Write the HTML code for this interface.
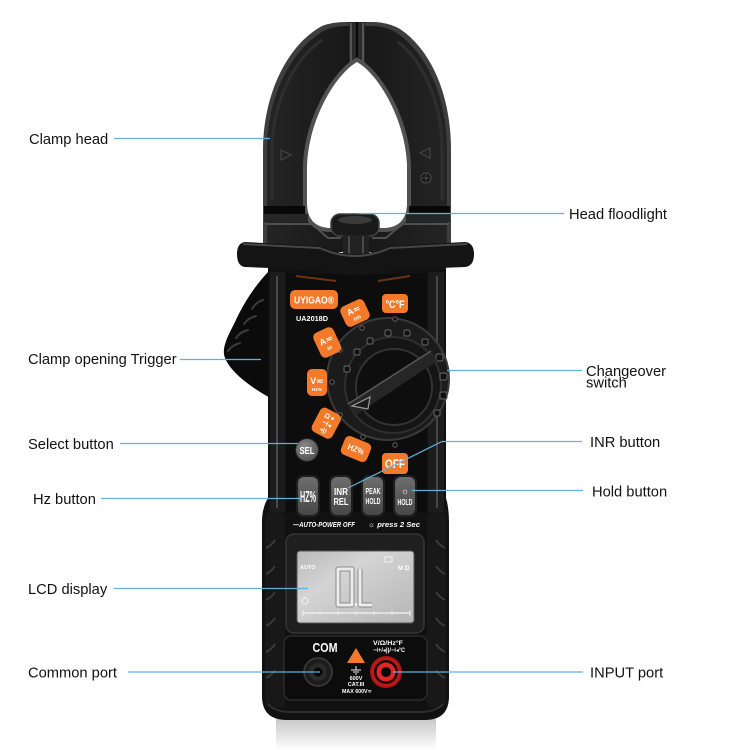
<!DOCTYPE html>
<html><head><meta charset="utf-8"><style>
html,body{margin:0;padding:0;background:#fff;}
svg{display:block}
.l{font-family:"Liberation Sans",Arial,sans-serif;font-size:14.7px;fill:#111}
.b{font-family:"Liberation Sans","DejaVu Sans",sans-serif;font-weight:bold;fill:#fff}
</style></head><body>
<svg width="750" height="750" viewBox="0 0 750 750" xmlns="http://www.w3.org/2000/svg">
<defs>
<linearGradient id="refl" x1="0" y1="0" x2="0" y2="1"><stop offset="0" stop-color="#c8c8c8"/><stop offset="1" stop-color="#ffffff"/></linearGradient>
<linearGradient id="lcd" x1="0" y1="0" x2="1" y2="1"><stop offset="0" stop-color="#b9b9b9"/><stop offset="0.35" stop-color="#d4d4d4"/><stop offset="1" stop-color="#b5b5b5"/></linearGradient>
<linearGradient id="gbtn" x1="0" y1="0" x2="0" y2="1"><stop offset="0" stop-color="#6e6e6e"/><stop offset="1" stop-color="#474747"/></linearGradient>
<radialGradient id="sel" cx="0.4" cy="0.35" r="0.7"><stop offset="0" stop-color="#8c8c8c"/><stop offset="1" stop-color="#505050"/></radialGradient>
<linearGradient id="headg" x1="0" y1="0" x2="1" y2="0"><stop offset="0" stop-color="#242424"/><stop offset="0.5" stop-color="#171717"/><stop offset="1" stop-color="#242424"/></linearGradient>
<radialGradient id="redp" cx="0.5" cy="0.5" r="0.5"><stop offset="0.6" stop-color="#e02424"/><stop offset="1" stop-color="#a51212"/></radialGradient>
</defs>

<!-- reflection -->
<rect x="276" y="719" width="160" height="31" fill="url(#refl)"/>

<!-- trigger -->
<path d="M270,270 C258,282 245,300 235,322 C228,336 221,348 225,358 C231,373 252,388 272,399 Z" fill="#0b0b0b"/>
<g fill="none" stroke="#3c3c3c" stroke-width="2" stroke-linecap="round">
<path d="M252,309 Q256,302 263,300"/>
<path d="M244,324 Q248,318 256,316"/>
<path d="M236,338 Q240,332 248,330"/>
<path d="M228,351 Q232,345 240,343"/>
</g>

<!-- head -->
<path d="M263,252 L263,150 C263,95 287,45 322,26 Q332,22 346,22 L372,22 Q388,22 400,29 C434,52 451,100 451,150 L451,252 Z" fill="#3e3e3e"/>
<path d="M267,252 L267,150 C267,98 290,50 325,30 Q334,26 347,26 L371,26 Q386,26 397,33 C430,56 447,102 447,150 L447,252 Z" fill="url(#headg)"/>
<path d="M272,200 L272,150 C272,104 293,60 322,40" fill="none" stroke="#2e2e2e" stroke-width="3"/>
<path d="M442,200 L442,150 C442,104 424,62 398,42" fill="none" stroke="#2e2e2e" stroke-width="3"/>
<!-- jaw split -->
<rect x="349" y="22" width="16" height="44" fill="#2a2a2a"/>
<line x1="351" y1="23" x2="351" y2="64" stroke="#555" stroke-width="2"/>
<line x1="363" y1="23" x2="363" y2="64" stroke="#555" stroke-width="2"/>
<line x1="357" y1="22" x2="357" y2="64" stroke="#0a0a0a" stroke-width="2"/>
<!-- opening -->
<path d="M357,62 C336,74 309,118 307,165 L307,205 Q308,226 328,228 L386,228 Q406,226 407,205 L407,165 C405,118 378,74 357,62 Z" fill="#fff" stroke="#525252" stroke-width="8"/>
<path d="M357,62 C336,74 309,118 307,165 L307,205 Q308,226 328,228 L386,228 Q406,226 407,205 L407,165 C405,118 378,74 357,62 Z" fill="#fff"/>
<!-- marks -->
<path d="M281,150 L291,155 L281,160 Z" fill="none" stroke="#444" stroke-width="1.2"/>
<path d="M430,148 L420,153 L430,158 Z" fill="none" stroke="#444" stroke-width="1.2"/>
<circle cx="426" cy="178" r="5" fill="#141414" stroke="#444" stroke-width="1.2"/>
<path d="M426,174.5 V181.5 M422.5,178 H429.5" stroke="#444" stroke-width="1.2"/>
<!-- black band on legs -->
<rect x="264" y="206" width="41" height="8" fill="#080808"/>
<rect x="409" y="206" width="41" height="8" fill="#080808"/>
<!-- shoulder -->
<rect x="264" y="214" width="44" height="8" fill="#262626"/>
<rect x="406" y="214" width="44" height="8" fill="#262626"/>
<polyline points="265,224 312,224 328,238 341,238" fill="none" stroke="#505050" stroke-width="2"/>
<polyline points="372,238 386,238 402,224 449,224" fill="none" stroke="#505050" stroke-width="2"/>
<rect x="331" y="214" width="48" height="22" rx="9" fill="#1a1a1a" stroke="#444" stroke-width="1.5"/>
<ellipse cx="355" cy="220" rx="17" ry="4" fill="#3a3a3a"/>
<rect x="343" y="235" width="26" height="26" fill="#222"/>
<line x1="349" y1="236" x2="349" y2="260" stroke="#4a4a4a" stroke-width="2"/>
<line x1="363" y1="236" x2="363" y2="260" stroke="#4a4a4a" stroke-width="2"/>

<!-- body -->
<path d="M268,262 L446,262 L446,498 Q449,508 449,522 L449,696 Q449,720 425,720 L287,720 Q262,720 262,696 L262,522 Q262,508 268,498 Z" fill="#111"/>
<rect x="270" y="272" width="15" height="240" fill="#1c1c1c"/>
<line x1="277" y1="276" x2="277" y2="508" stroke="#4a4a4a" stroke-width="2"/>
<rect x="428" y="272" width="16" height="240" fill="#1c1c1c"/>
<line x1="437" y1="276" x2="437" y2="508" stroke="#464646" stroke-width="2"/>
<rect x="286" y="274" width="141" height="238" fill="#0d0d0d"/>
<!-- lower rails -->
<rect x="265" y="512" width="20" height="196" rx="6" fill="#181818"/>
<rect x="427" y="512" width="19" height="196" rx="6" fill="#181818"/>
<g fill="none" stroke="#3a3a3a" stroke-width="2">
<path d="M266,548 Q272,545 275,540"/><path d="M266,574 Q272,571 275,566"/><path d="M266,600 Q272,597 275,592"/><path d="M266,626 Q272,623 275,618"/><path d="M266,652 Q272,649 275,644"/><path d="M266,678 Q272,675 275,670"/>
<path d="M445,548 Q439,545 436,540"/><path d="M445,574 Q439,571 436,566"/><path d="M445,600 Q439,597 436,592"/><path d="M445,626 Q439,623 436,618"/><path d="M445,652 Q439,649 436,644"/><path d="M445,678 Q439,675 436,670"/>
</g>
<path d="M268,704 Q275,712 290,712 L420,712 Q436,712 443,704" fill="none" stroke="#2e2e2e" stroke-width="2"/>

<!-- guard -->
<path d="M245,242 L320,246 Q355,262 390,246 L465,242 Q474,243 474,254 Q474,266 465,267 L390,270 Q355,281 320,270 L245,267 Q237,266 237,254 Q237,243 245,242 Z" fill="#141414"/>
<path d="M243,244 L320,248 Q355,264 390,248 L467,244" fill="none" stroke="#474747" stroke-width="2"/>
<!-- orange glow -->
<path d="M296,276 L336,281" stroke="#6a3312" stroke-width="2"/>
<path d="M378,281 L410,276" stroke="#6a3312" stroke-width="2"/>

<!-- logo -->
<rect x="290" y="290" width="48" height="19" rx="5" fill="#f47a2b"/>
<text x="314" y="303.5" text-anchor="middle" class="b" font-size="10" textLength="40" lengthAdjust="spacingAndGlyphs">UYIGAO®</text>
<text x="312" y="321" text-anchor="middle" class="b" font-size="7.5" textLength="32" lengthAdjust="spacingAndGlyphs">UA2018D</text>

<!-- dial -->
<circle cx="388" cy="379" r="61" fill="#1b1b1b" stroke="#3a3a3a" stroke-width="2"/>
<circle cx="393" cy="385" r="48" fill="#151515" stroke="#2f2f2f" stroke-width="2"/>
<g fill="#111" stroke="#5a5a5a" stroke-width="1.2">
<rect x="344" y="366" width="6" height="6" rx="1.5"/>
<rect x="354" y="349" width="6" height="6" rx="1.5"/>
<rect x="367" y="338" width="6" height="6" rx="1.5"/>
<rect x="385" y="330" width="6" height="6" rx="1.5"/>
<rect x="404" y="330" width="6" height="6" rx="1.5"/>
<rect x="422" y="339" width="6" height="6" rx="1.5"/>
<rect x="436" y="354" width="7" height="7" rx="1.5"/>
<rect x="440" y="373" width="7" height="7" rx="1.5"/>
<rect x="440" y="392" width="7" height="7" rx="1.5"/>
<rect x="434" y="410" width="6" height="6" rx="1.5"/>
</g>
<g fill="#0a0a0a" stroke="#666" stroke-width="1">
<circle cx="395" cy="319" r="2.2"/><circle cx="362" cy="328" r="2.2"/><circle cx="340" cy="350" r="2.2"/>
<circle cx="332" cy="382" r="2.2"/><circle cx="340" cy="415" r="2.2"/><circle cx="363" cy="437" r="2.2"/>
<circle cx="395" cy="445" r="2.2"/>
</g>
<circle cx="394" cy="387" r="38" fill="#0e0e0e" stroke="#333" stroke-width="2"/>
<path d="M348,404 L431,351 L437,361 L356,415 Z" fill="#262626"/>
<path d="M348,404 L431,351" stroke="#5a5a5a" stroke-width="1.5"/>
<path d="M352,406 L370,397 L368,409 Z" fill="#1a1a1a" stroke="#9a9a9a" stroke-width="1.2"/>

<!-- orange buttons -->
<g fill="#f47a2b">
<rect x="382" y="294" width="26" height="19" rx="4"/>
<rect x="342" y="302" width="26" height="22" rx="5" transform="rotate(-25 355 313)"/>
<rect x="316" y="329" width="22" height="27" rx="5" transform="rotate(-25 327 342)"/>
<rect x="307" y="369" width="20" height="27" rx="5"/>
<rect x="315" y="410" width="23" height="27" rx="5" transform="rotate(28 327 423)"/>
<rect x="342" y="439" width="28" height="20" rx="5" transform="rotate(22 356 449)"/>
<rect x="382" y="453" width="26" height="21" rx="4"/>
</g>
<text x="395" y="308" text-anchor="middle" class="b" font-size="11" textLength="19" lengthAdjust="spacingAndGlyphs">°C°F</text>
<g transform="rotate(-25 355 313)"><text x="355" y="313" text-anchor="middle" class="b" font-size="9">A≂</text><text x="355" y="320" text-anchor="middle" class="b" font-size="4.5">600</text></g>
<g transform="rotate(-25 327 342)"><text x="327" y="343" text-anchor="middle" class="b" font-size="9">A≂</text><text x="327" y="350" text-anchor="middle" class="b" font-size="4.5">60</text></g>
<text x="317" y="384" text-anchor="middle" class="b" font-size="9">V≂</text><text x="317" y="391" text-anchor="middle" class="b" font-size="4.5">HZ%</text>
<g transform="rotate(28 327 423)"><text x="327" y="419" text-anchor="middle" class="b" font-size="7">Ω✦</text><text x="327" y="426" text-anchor="middle" class="b" font-size="7">⊣◂</text><text x="327" y="433" text-anchor="middle" class="b" font-size="6">◂))</text></g>
<text x="356" y="452" text-anchor="middle" class="b" font-size="8" transform="rotate(22 356 449)" textLength="17" lengthAdjust="spacingAndGlyphs">HZ%</text>
<text x="395" y="468" text-anchor="middle" class="b" font-size="12" textLength="20" lengthAdjust="spacingAndGlyphs">OFF</text>

<!-- SEL -->
<circle cx="307" cy="450" r="12" fill="#222"/>
<circle cx="307" cy="450" r="11" fill="url(#sel)"/>
<text x="307" y="454" text-anchor="middle" class="b" font-size="10" textLength="15" lengthAdjust="spacingAndGlyphs">SEL</text>

<!-- gray buttons -->
<g fill="#1e1e1e"><rect x="296" y="475" width="24" height="42" rx="7"/><rect x="329" y="475" width="24" height="42" rx="7"/><rect x="361" y="475" width="24" height="42" rx="7"/><rect x="393" y="475" width="24" height="42" rx="7"/></g>
<g fill="url(#gbtn)"><rect x="298" y="477" width="20" height="38" rx="6"/><rect x="331" y="477" width="20" height="38" rx="6"/><rect x="363" y="477" width="20" height="38" rx="6"/><rect x="395" y="477" width="20" height="38" rx="6"/></g>
<text x="308" y="502" text-anchor="middle" class="b" font-size="16" textLength="16" lengthAdjust="spacingAndGlyphs">HZ%</text>
<text x="341" y="495" text-anchor="middle" class="b" font-size="10" textLength="14" lengthAdjust="spacingAndGlyphs">INR</text>
<text x="341" y="505" text-anchor="middle" class="b" font-size="10" textLength="15" lengthAdjust="spacingAndGlyphs">REL</text>
<text x="373" y="494" text-anchor="middle" class="b" font-size="8.5" textLength="15" lengthAdjust="spacingAndGlyphs">PEAK</text>
<text x="373" y="504" text-anchor="middle" class="b" font-size="8.5" textLength="15" lengthAdjust="spacingAndGlyphs">HOLD</text>
<text x="405" y="494" text-anchor="middle" class="b" font-size="9">☼</text>
<text x="405" y="505" text-anchor="middle" class="b" font-size="8.5" textLength="15" lengthAdjust="spacingAndGlyphs">HOLD</text>
<text x="293" y="527" class="b" font-size="7.5" font-style="italic" textLength="62" lengthAdjust="spacingAndGlyphs">—AUTO-POWER OFF</text>
<text x="368" y="527" class="b" font-size="7.5" font-style="italic" textLength="52" lengthAdjust="spacingAndGlyphs">☼ press 2 Sec</text>

<!-- LCD -->
<rect x="286" y="534" width="138" height="99" rx="8" fill="#1f1f1f" stroke="#353535" stroke-width="1.5"/>
<rect x="297" y="551" width="117" height="72" rx="3" fill="url(#lcd)" stroke="#555" stroke-width="1"/>
<text x="300" y="569" class="b" font-size="5.5">AUTO</text>
<rect x="385" y="557" width="7" height="5" fill="none" stroke="#f2f2f2" stroke-width="1"/>
<text x="398" y="570" class="b" font-size="6">M Ω</text>
<g fill="none" stroke-linejoin="round">
<path d="M338,569 H352 V605 H338 Z" stroke="#8a8a8a" stroke-width="5"/>
<path d="M338,569 H352 V605 H338 Z" stroke="#ededed" stroke-width="3"/>
<path d="M360,569 V605 H372" stroke="#8a8a8a" stroke-width="5"/>
<path d="M360,569 V605 H372" stroke="#ededed" stroke-width="3"/>
</g>
<rect x="354.5" y="603" width="3" height="3" fill="#ededed"/>
<circle cx="305" cy="601" r="3" fill="none" stroke="#f0f0f0" stroke-width="1.2"/>
<line x1="302" y1="613" x2="411" y2="613" stroke="#ececec" stroke-width="1.5"/>
<g stroke="#ececec" stroke-width="1"><line x1="303" y1="610" x2="303" y2="616"/><line x1="320" y1="611" x2="320" y2="615"/><line x1="338" y1="611" x2="338" y2="615"/><line x1="356" y1="611" x2="356" y2="615"/><line x1="374" y1="611" x2="374" y2="615"/><line x1="392" y1="611" x2="392" y2="615"/><line x1="410" y1="610" x2="410" y2="616"/></g>

<!-- ports -->
<rect x="284" y="636" width="143" height="64" rx="7" fill="#0c0c0c" stroke="#2c2c2c" stroke-width="1.5"/>
<text x="325" y="652" text-anchor="middle" class="b" font-size="13" textLength="25" lengthAdjust="spacingAndGlyphs">COM</text>
<circle cx="318" cy="672" r="14" fill="#1c1c1c" stroke="#3e3e3e" stroke-width="1.5"/>
<circle cx="318" cy="672" r="9" fill="#2a2a2a"/>
<circle cx="318" cy="672" r="4.5" fill="#050505"/>
<text x="388" y="645" text-anchor="middle" class="b" font-size="6.5" textLength="30" lengthAdjust="spacingAndGlyphs">V/Ω/Hz°F</text>
<text x="389" y="652" text-anchor="middle" class="b" font-size="6" textLength="32" lengthAdjust="spacingAndGlyphs">⊣+/◂))/⊣◂°C</text>
<path d="M356,648 L365,663 L347,663 Z" fill="#f47a2b"/>
<path d="M356,666 V670 M351,670 H361 M353,672 H359 M355,674 H357" stroke="#eee" stroke-width="1"/>
<text x="356" y="680" text-anchor="middle" class="b" font-size="5.5">600V</text>
<text x="356" y="686" text-anchor="middle" class="b" font-size="5.5">CAT.III</text>
<text x="357" y="693" text-anchor="middle" class="b" font-size="5.5" textLength="30" lengthAdjust="spacingAndGlyphs">MAX 600V≂</text>
<circle cx="386" cy="672" r="16" fill="url(#redp)"/>
<circle cx="386" cy="672" r="12" fill="#1a0404"/>
<circle cx="386" cy="672" r="9.5" fill="#e02626"/>
<circle cx="386" cy="672" r="5" fill="#050505"/>

<!-- connector lines -->
<g stroke="#62b1dc" stroke-width="1.2" fill="none">
<line x1="114" y1="138.5" x2="270" y2="138.5"/>
<line x1="180" y1="359.5" x2="261" y2="359.5"/>
<line x1="120" y1="443.5" x2="298" y2="443.5"/>
<line x1="101" y1="498.5" x2="300" y2="498.5"/>
<line x1="114" y1="588.5" x2="308" y2="588.5"/>
<line x1="128" y1="672" x2="320" y2="672"/>
<line x1="359" y1="213.5" x2="564" y2="213.5"/>
<line x1="447" y1="370.5" x2="582" y2="370.5"/>
<polyline points="348,488 442,441.5 582,441.5"/>
<line x1="412" y1="490.5" x2="583" y2="490.5"/>
<line x1="393" y1="672" x2="583" y2="672"/>
</g>

<!-- labels -->
<text class="l" x="29" y="144">Clamp head</text>
<text class="l" x="28" y="364">Clamp opening Trigger</text>
<text class="l" x="28" y="449">Select button</text>
<text class="l" x="33" y="504">Hz button</text>
<text class="l" x="28" y="594">LCD display</text>
<text class="l" x="28" y="677.5">Common port</text>
<text class="l" x="569" y="219">Head floodlight</text>
<text class="l" x="586" y="376">Changeover</text>
<text class="l" x="586" y="387.5">switch</text>
<text class="l" x="590" y="447">INR button</text>
<text class="l" x="592" y="496.5">Hold button</text>
<text class="l" x="590" y="677.5">INPUT port</text>
</svg>
</body></html>
